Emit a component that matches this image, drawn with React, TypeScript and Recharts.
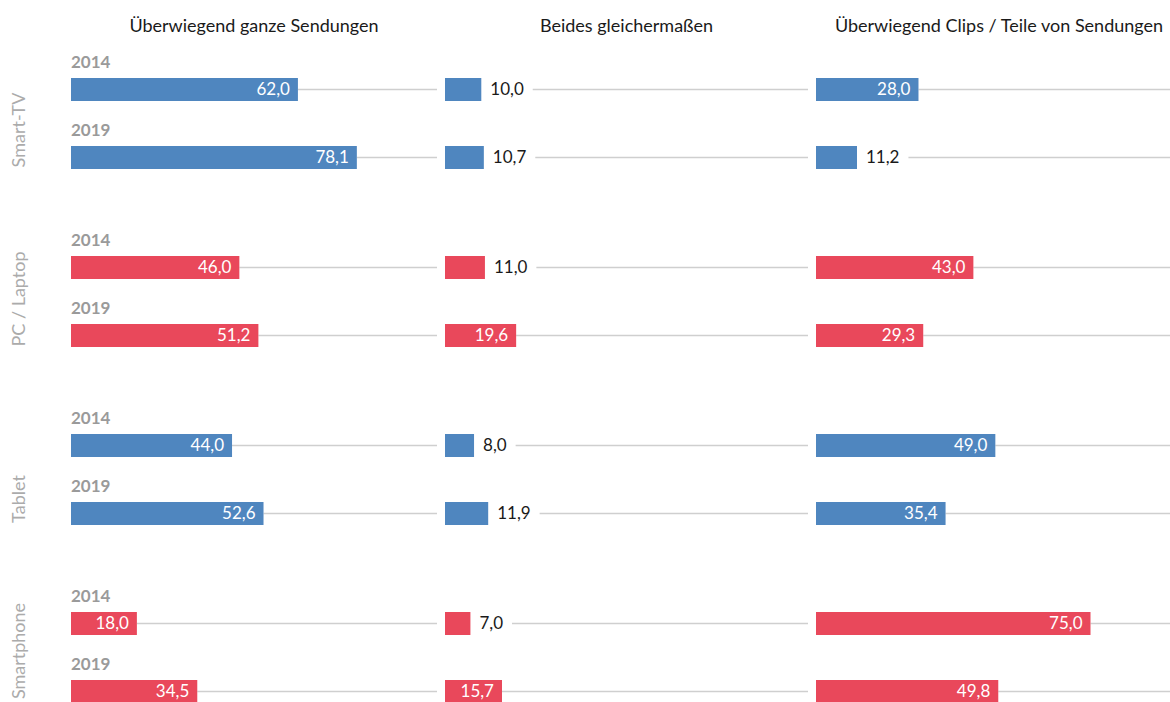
import React from "react";
import { BarChart, Bar, XAxis, YAxis, LabelList } from "recharts";

const devices = ["Smart-TV", "PC / Laptop", "Tablet", "Smartphone"];
const years = ["2014", "2019"];
const panelTitles = [
  "Überwiegend ganze Sendungen",
  "Beides gleichermaßen",
  "Überwiegend Clips / Teile von Sendungen",
];
const ganzeSendungen = [
  [62.0, 78.1],
  [46.0, 51.2],
  [44.0, 52.6],
  [18.0, 34.5],
];
const beides = [
  [10.0, 10.7],
  [11.0, 19.6],
  [8.0, 11.9],
  [7.0, 15.7],
];
const clips = [
  [28.0, 11.2],
  [43.0, 29.3],
  [49.0, 35.4],
  [75.0, 49.8],
];
const panelValues = [ganzeSendungen, beides, clips];

const BLUE = "#4f86bf";
const RED = "#e9485b";
const deviceColors = [BLUE, RED, BLUE, RED];

// layout
const FONT = "Lato, 'Open Sans', sans-serif";
const panelLeft = [71, 445, 816];
const panelWidth = [366, 363, 366];
const groupTop0 = 55;
const groupStep = 178;
const plotHeight = 136;
const topPad = 24;
const deviceLabelShift = [7, -2, 20, -6];

const fmt = (v: number) => v.toFixed(1).replace(".", ",");

let ctx: CanvasRenderingContext2D | null = null;
function textWidth(s: string) {
  if (!ctx) ctx = document.createElement("canvas").getContext("2d");
  if (!ctx) return s.length * 9;
  ctx.font = "17px Lato";
  return ctx.measureText(s).width;
}

function TrackBar(props: any) {
  const { x, y, width, height, fill, payload, end } = props;
  const cy = y + height / 2;
  const inside = width >= 50;
  const lineStart = inside ? x + width : x + width + 9 + textWidth(fmt(payload.v)) + 9;
  return (
    <g>
      <line x1={lineStart} x2={end} y1={cy} y2={cy} stroke="#cfcfcf" strokeWidth={1.5} />
      <rect x={x} y={y} width={width} height={height} fill={fill} />
    </g>
  );
}

function ValueLabel(props: any) {
  const { x, y, width, height, value } = props;
  const cy = y + height / 2;
  const inside = width >= 50;
  return (
    <text
      x={inside ? x + width - 8 : x + width + 9}
      y={cy}
      dy="0.35em"
      textAnchor={inside ? "end" : "start"}
      fill={inside ? "#ffffff" : "#1a1a1a"}
      fontSize={17}
      fontFamily={FONT}
    >
      {fmt(value)}
    </text>
  );
}

function YearLabel(props: any) {
  const { x, y, height, value } = props;
  return (
    <text x={x} y={y + height / 2 - 22} fill="#9a9a9a" fontSize={17} fontWeight={700} fontFamily={FONT}>
      {value}
    </text>
  );
}

function GroupPanel({ g, p }: { g: number; p: number }) {
  const data = years.map((year, i) => ({ year, v: panelValues[p][g][i] }));
  const w = panelWidth[p];
  return (
    <div style={{ position: "absolute", left: panelLeft[p], top: groupTop0 + g * groupStep - topPad }}>
      <BarChart
        width={w}
        height={plotHeight + topPad}
        data={data}
        layout="vertical"
        margin={{ top: topPad, right: 0, bottom: 0, left: 0 }}
        style={{ overflow: "visible" }}
      >
        <XAxis type="number" domain={[0, 100]} hide />
        <YAxis type="category" dataKey="year" hide />
        <Bar
          dataKey="v"
          fill={deviceColors[g]}
          barSize={23}
          isAnimationActive={false}
          shape={(sp: any) => <TrackBar {...sp} end={w} />}
        >
          <LabelList dataKey="v" content={<ValueLabel />} />
          {p === 0 && <LabelList dataKey="year" content={<YearLabel />} />}
        </Bar>
      </BarChart>
    </div>
  );
}

export default function App() {
  return (
    <div
      style={{
        position: "absolute",
        left: 0,
        top: 0,
        width: 1170,
        height: 702,
        overflow: "hidden",
        background: "#fff",
        fontFamily: FONT,
      }}
    >
      {panelTitles.map((t, p) => (
        <div
          key={t}
          style={{
            position: "absolute",
            left: panelLeft[p] - 40,
            width: panelWidth[p] + 80,
            top: 14,
            textAlign: "center",
            fontSize: 18,
            lineHeight: "22px",
            color: "#1a1a1a",
            whiteSpace: "nowrap",
          }}
        >
          {t}
        </div>
      ))}
      {devices.map((d, g) => (
        <div
          key={d}
          style={{
            position: "absolute",
            left: 18 - 100,
            top: groupTop0 + g * groupStep + plotHeight / 2 + deviceLabelShift[g] - 11,
            width: 200,
            height: 22,
            lineHeight: "22px",
            textAlign: "center",
            transform: "rotate(-90deg)",
            fontSize: 18,
            color: "#ababab",
            whiteSpace: "nowrap",
          }}
        >
          {d}
        </div>
      ))}
      {devices.map((d, g) =>
        panelTitles.map((t, p) => <GroupPanel key={d + t} g={g} p={p} />)
      )}
    </div>
  );
}
